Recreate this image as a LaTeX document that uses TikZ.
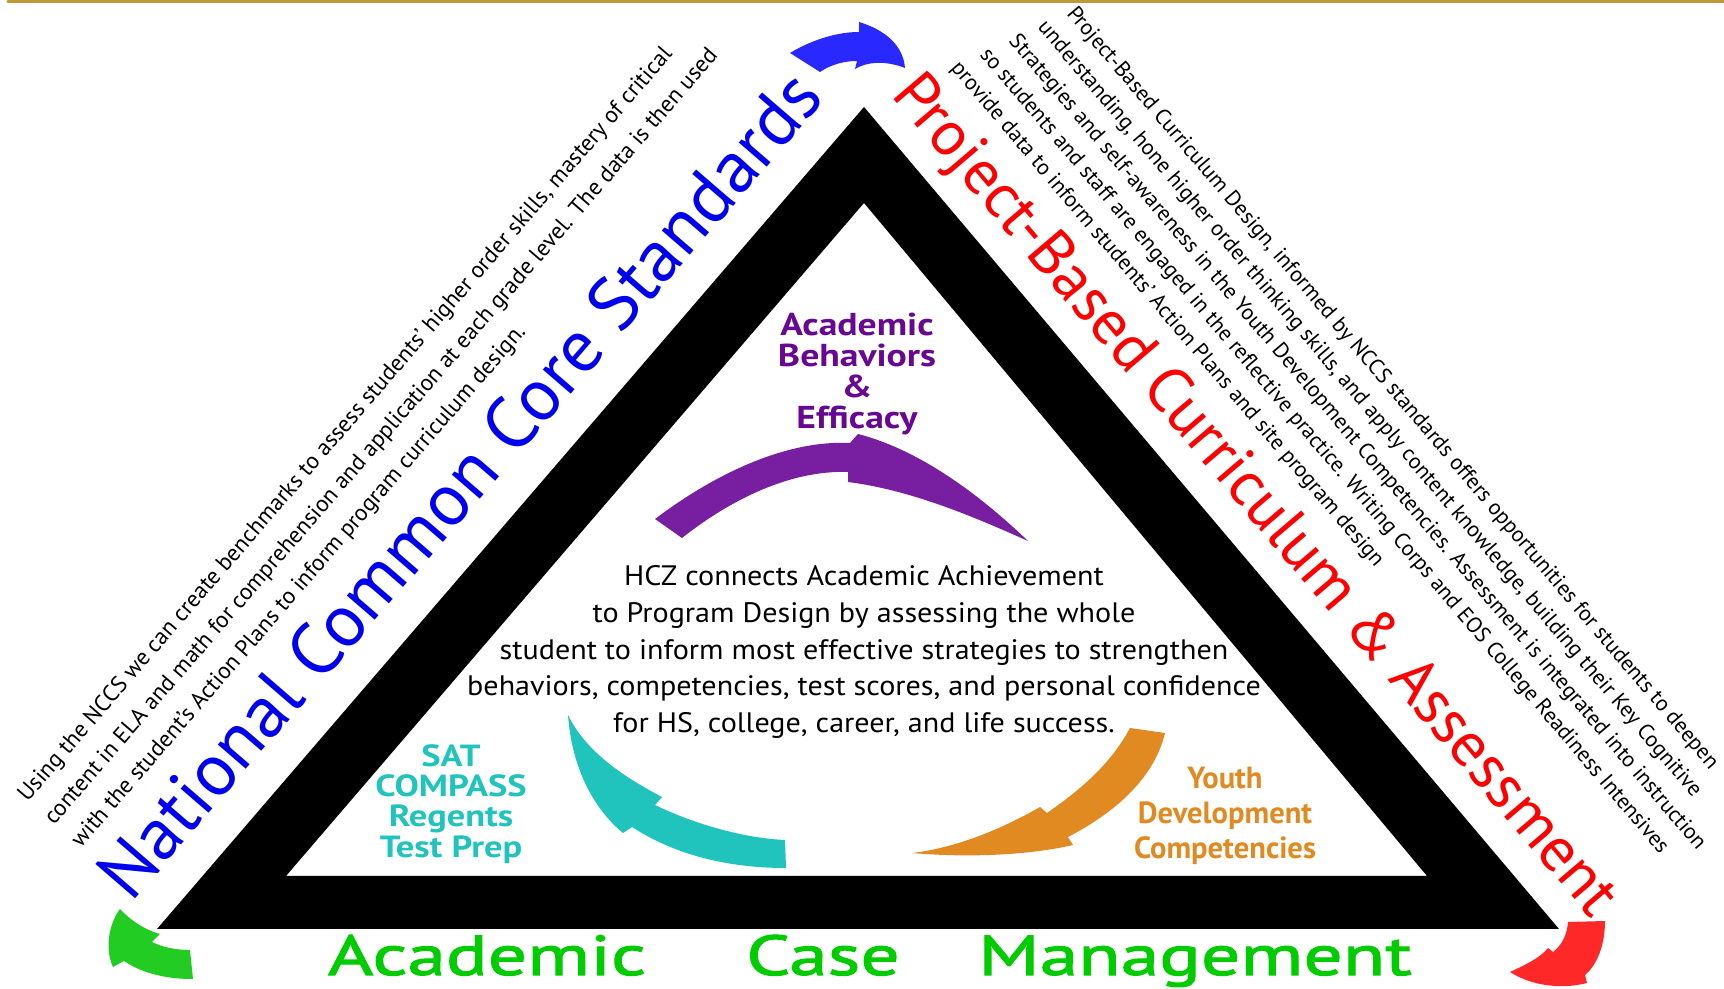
\documentclass[tikz,border=0pt]{standalone}
\usepackage{fontspec}
\setmainfont{PT Sans}
\newfontfamily\widesans[FakeStretch=1.07]{PT Sans}
\newfontfamily\lblsans[FakeStretch=1.19]{PT Sans}
\newfontfamily\acmsans[FakeStretch=1.38,FakeBold=2]{PT Sans}
\definecolor{rulegold}{RGB}{192,154,58}
\definecolor{ncblue}{RGB}{0,0,238}
\definecolor{arrblue}{RGB}{40,40,255}
\definecolor{pbred}{RGB}{255,0,0}
\definecolor{arrred}{RGB}{255,40,40}
\definecolor{acgreen}{RGB}{0,204,0}
\definecolor{arrgreen}{RGB}{34,204,34}
\definecolor{abpurple}{RGB}{104,8,146}
\definecolor{arrpurple}{RGB}{120,30,160}
\definecolor{satteal}{RGB}{32,196,188}
\definecolor{ydorange}{RGB}{226,138,34}

\begin{document}
\begin{tikzpicture}[x=0.01cm,y=-0.01cm,
  bigtitle/.style={inner sep=0pt, font=\fontsize{21}{21}\selectfont},
  blurb/.style={inner sep=0pt, font=\fontsize{6.6}{10}\selectfont, align=left},
  lbl/.style={inner sep=0pt, font=\lblsans\fontsize{9}{8.8}\selectfont\bfseries, align=center},
  acm/.style={inner sep=0pt, anchor=base, acgreen, font=\acmsans\fontsize{16}{16}\selectfont}]
\useasboundingbox (0,0) rectangle (1724,989);
\fill[white] (0,0) rectangle (1724,989);
% gold rule along the top
\draw[rulegold, line width=0.9pt, line cap=round] (8,1.5) -- (1724,1.5);

% the black frame
\fill[black, even odd rule] (864,107) -- (1559,929) -- (157,929) -- cycle
  (864,203) -- (1427,876) -- (286,876) -- cycle;

% corner arrows
\fill[arrblue] (790,53) .. controls (815,38) and (840,32) .. (859,32) -- (859,22)
  .. controls (885,30) and (903,45) .. (905,68)
  .. controls (890,62) and (870,60) .. (855,69) -- (857,61)
  .. controls (845,61) and (832,64) .. (820,72) -- cycle;
\fill[arrgreen] (120,909) .. controls (108,925) and (105,950) .. (113,967) -- (124,961)
  .. controls (145,975) and (170,979) .. (193,979) -- (190,950)
  .. controls (175,950) and (162,947) .. (152,942) -- (160,934)
  .. controls (145,930) and (130,920) .. (120,909) -- cycle;
\fill[arrred] (1605,921) .. controls (1605,945) and (1597,965) .. (1585,975) -- (1587,983)
  .. controls (1560,990) and (1530,985) .. (1510,972)
  .. controls (1525,965) and (1540,958) .. (1548,948) -- (1553,952)
  .. controls (1562,945) and (1567,935) .. (1568,922) -- cycle;

% inner arrows
\fill[arrpurple] (655,519) .. controls (720,470) and (790,440) .. (850,443) -- (858,434)
  .. controls (920,450) and (980,495) .. (1028,541)
  .. controls (970,515) and (910,490) .. (848,482) -- (848,472)
  .. controls (790,470) and (730,500) .. (682,538) -- cycle;
\fill[satteal] (785,840) .. controls (740,838) and (690,822) .. (655,805) -- (662,797)
  .. controls (620,775) and (585,750) .. (568,715)
  .. controls (572,770) and (595,810) .. (623,833) -- (632,827)
  .. controls (680,858) and (735,868) .. (786,868) -- cycle;
\fill[ydorange] (1130,728) .. controls (1110,765) and (1080,790) .. (1047,813) -- (1040,807)
  .. controls (1000,830) and (955,848) .. (912,853)
  .. controls (970,858) and (1030,855) .. (1073,845) -- (1068,837)
  .. controls (1120,810) and (1155,775) .. (1165,733) -- cycle;

% titles along the sides
\node[bigtitle, ncblue, rotate=49.2] (ncss) at (459,484) {National Common Core Standards};
\node[bigtitle, pbred, rotate=-49.6, font=\fontsize{18}{18}\selectfont] (pbca) at (1253,497)
  {Project-Based Curriculum \& Assessment};

% notes outside the frame
\node[blurb, rotate=49.2] (ncssnote) at (382,437)
  {Using the NCCS we can create benchmarks to assess students’ higher order skills, mastery of critical\\
   content in ELA and math for comprehension and application at each grade level. The data is then used\\
   with the student’s Action Plans to inform program curriculum design.};
\foreach \t [count=\i from 0] in
  {{Project-Based Curriculum Design, informed by NCCS standards offers opportunities for students to deepen},
   {understanding, hone higher order thinking skills, and apply content knowledge, building their Key Cognitive},
   {Strategies and self-awareness in the Youth Development Competencies. Assessment is integrated into instruction},
   {so students and staff are engaged in the reflective practice. Writing Corps and EOS College Readiness Intensives},
   {provide data to inform students’ Action Plans and site program design}}
  \node[blurb, rotate=-49.6, anchor=north west, font=\fontsize{6.25}{10}\selectfont]
    (pbnote\i) at ({1078-28.9*\i},{3+13.7*\i}) {\t};

% inside the frame
\node[inner sep=0pt, align=center, font=\widesans\fontsize{8}{10.4}\selectfont] (hcz) at (864,652)
  {HCZ connects Academic Achievement\\ to Program Design by assessing the whole\\
   student to inform most effective strategies to strengthen\\
   behaviors, competencies, test scores, and personal confidence\\
   for HS, college, career, and life success.};
\node[lbl, abpurple] (abe) at (857,374) {Academic\\ Behaviors\\ \&\\ Efficacy};
\node[lbl, satteal, font=\lblsans\fontsize{8.7}{8.6}\selectfont\bfseries] (sat) at (451,804)
  {SAT\\ COMPASS\\ Regents\\ Test Prep};
\node[lbl, ydorange, font=\fontsize{8.7}{10}\selectfont\bfseries] (ydc) at (1225,816)
  {Youth\\ Development\\ Competencies};

% along the bottom
\node[acm] (acm1) at (487,975) {Academic};
\node[acm] (acm2) at (823,975) {Case};
\node[acm] (acm3) at (1195,975) {Management};
\end{tikzpicture}
\end{document}
